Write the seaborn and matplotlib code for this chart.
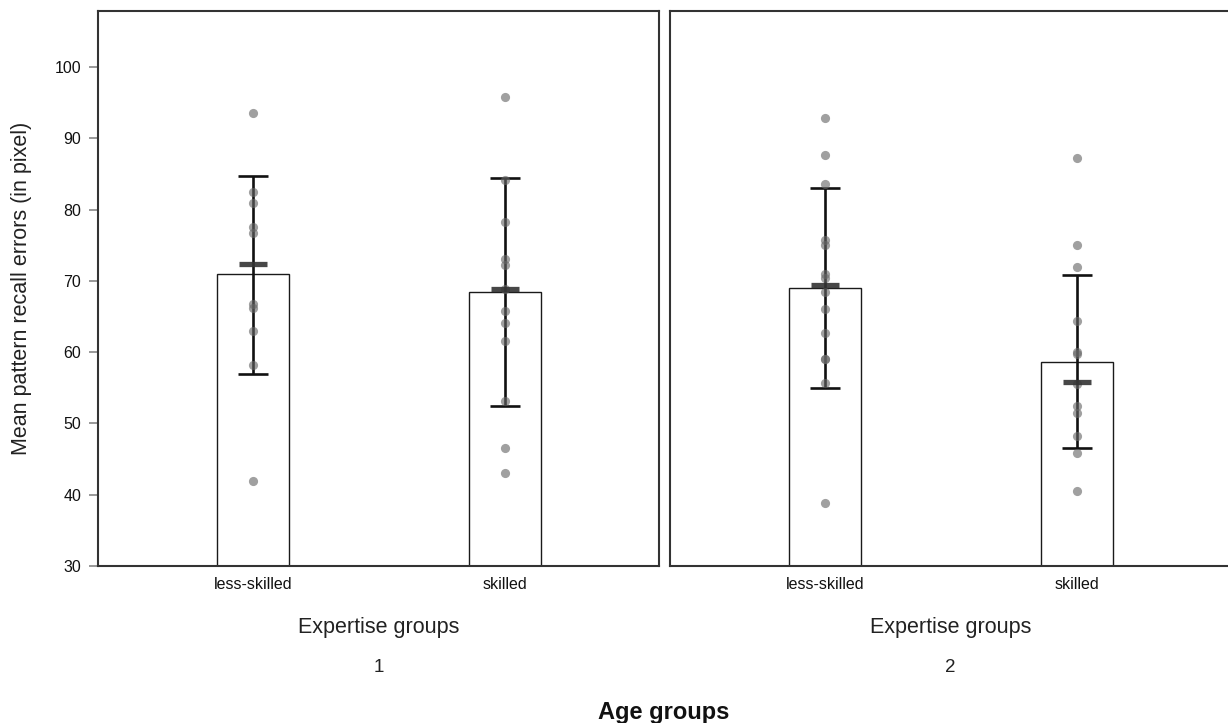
import matplotlib
matplotlib.use("Agg")
import matplotlib.pyplot as plt
import seaborn as sns
import pandas as pd
import numpy as np

# ---------------- data ----------------
categories = ["less-skilled", "skilled"]
age_groups = ["1", "2"]

# individual participant points
age1_less = [93.5, 82.5, 80.9, 77.6, 76.7, 66.7, 66.2, 62.9, 58.2, 41.9]
age1_skilled = [95.8, 84.2, 78.3, 73.1, 72.2, 68.9, 65.8, 64.1, 61.5, 53.1, 46.6, 43.0]
age2_less = [92.8, 87.7, 83.6, 75.8, 75.0, 71.0, 70.4, 68.4, 66.1, 62.7, 59.1, 59.0, 55.7, 38.9]
age2_skilled = [87.2, 75.0, 72.0, 64.3, 60.0, 59.8, 55.6, 52.4, 51.4, 48.2, 45.9, 40.5]

# summary values per panel (less-skilled, skilled)
bar_means = {"1": [70.9, 68.5], "2": [69.0, 58.6]}
err_low = {"1": [57.0, 52.5], "2": [55.0, 46.6]}
err_high = {"1": [84.7, 84.4], "2": [83.0, 70.8]}
medians = {"1": [72.4, 68.9], "2": [69.4, 55.8]}

points = {"1": [age1_less, age1_skilled], "2": [age2_less, age2_skilled]}

y_ticks = [30, 40, 50, 60, 70, 80, 90, 100]

# ---------------- styling ----------------
sns.set_theme(style="white")
plt.rcParams["font.family"] = ["Liberation Sans", "DejaVu Sans"]

W, H = 1228, 723
fig = plt.figure(figsize=(W / 100, H / 100), dpi=100)

ax_left_px = [98, 670]
ax_w_px = 561
ax_top_px, ax_bot_px = 11, 566

spine_col = "#333333"

for i, ag in enumerate(age_groups):
    ax = fig.add_axes([ax_left_px[i] / W, 1 - ax_bot_px / H,
                       ax_w_px / W, (ax_bot_px - ax_top_px) / H])
    bar_df = pd.DataFrame({"group": categories, "value": bar_means[ag]})
    sns.barplot(data=bar_df, x="group", y="value", order=categories, ax=ax,
                color="white", saturation=1, edgecolor="#1a1a1a", linewidth=1.0,
                width=0.286, errorbar=None, zorder=2)

    xs = np.arange(len(categories))
    means = np.array(bar_means[ag])
    lo = means - np.array(err_low[ag])
    hi = np.array(err_high[ag]) - means
    ax.errorbar(xs, means, yerr=[lo, hi], fmt="none", ecolor="#111111",
                elinewidth=1.9, capsize=10.5, capthick=1.9, zorder=3)

    pt_df = pd.DataFrame({
        "group": sum([[c] * len(v) for c, v in zip(categories, points[ag])], []),
        "value": sum(points[ag], []),
    })
    sns.stripplot(data=pt_df, x="group", y="value", order=categories, ax=ax,
                  jitter=False, color="#666666", alpha=0.62, size=6.6,
                  linewidth=0, zorder=4)

    ax.plot(xs, medians[ag], ls="none", marker="_", markersize=20,
            markeredgewidth=3.8, color="#333333", alpha=0.9, zorder=5)

    ax.set_xlim(-0.615, 1.61)
    ax.set_ylim(30, 30 + (ax_bot_px - ax_top_px) / ((566 - 67) / 70))
    ax.set_xlabel("")
    ax.set_ylabel("")
    ax.set_xticks(xs)
    ax.set_xticklabels(categories, fontsize=11.5, color="#111111")
    ax.tick_params(axis="x", length=0, pad=8)
    if i == 0:
        ax.set_yticks(y_ticks)
        ax.set_yticklabels([str(t) for t in y_ticks], fontsize=11.5, color="#111111")
        ax.tick_params(axis="y", left=True, length=6.5, width=1.2, color="#888888", pad=5.5)
    else:
        ax.set_yticks([])
    for s in ["top", "left", "bottom", "right"]:
        ax.spines[s].set_visible(True)
        ax.spines[s].set_color(spine_col)
        ax.spines[s].set_linewidth(1.5)

    cx = (ax_left_px[i] + ax_w_px / 2) / W
    fig.text(cx, 1 - 627 / H, "Expertise groups", ha="center", va="center",
             fontsize=15.5, color="#222222")
    fig.text(cx, 1 - 667 / H, ag, ha="center", va="center",
             fontsize=13.5, color="#222222")

fig.text(22 / W, 1 - 288 / H, "Mean pattern recall errors (in pixel)", rotation=90,
         ha="center", va="center", fontsize=15.5, color="#222222")
fig.text(664 / W, 1 - 712 / H, "Age groups", ha="center", va="center",
         fontsize=17, fontweight="bold", color="#111111")

fig.savefig("out.png", dpi=100, facecolor="white")
